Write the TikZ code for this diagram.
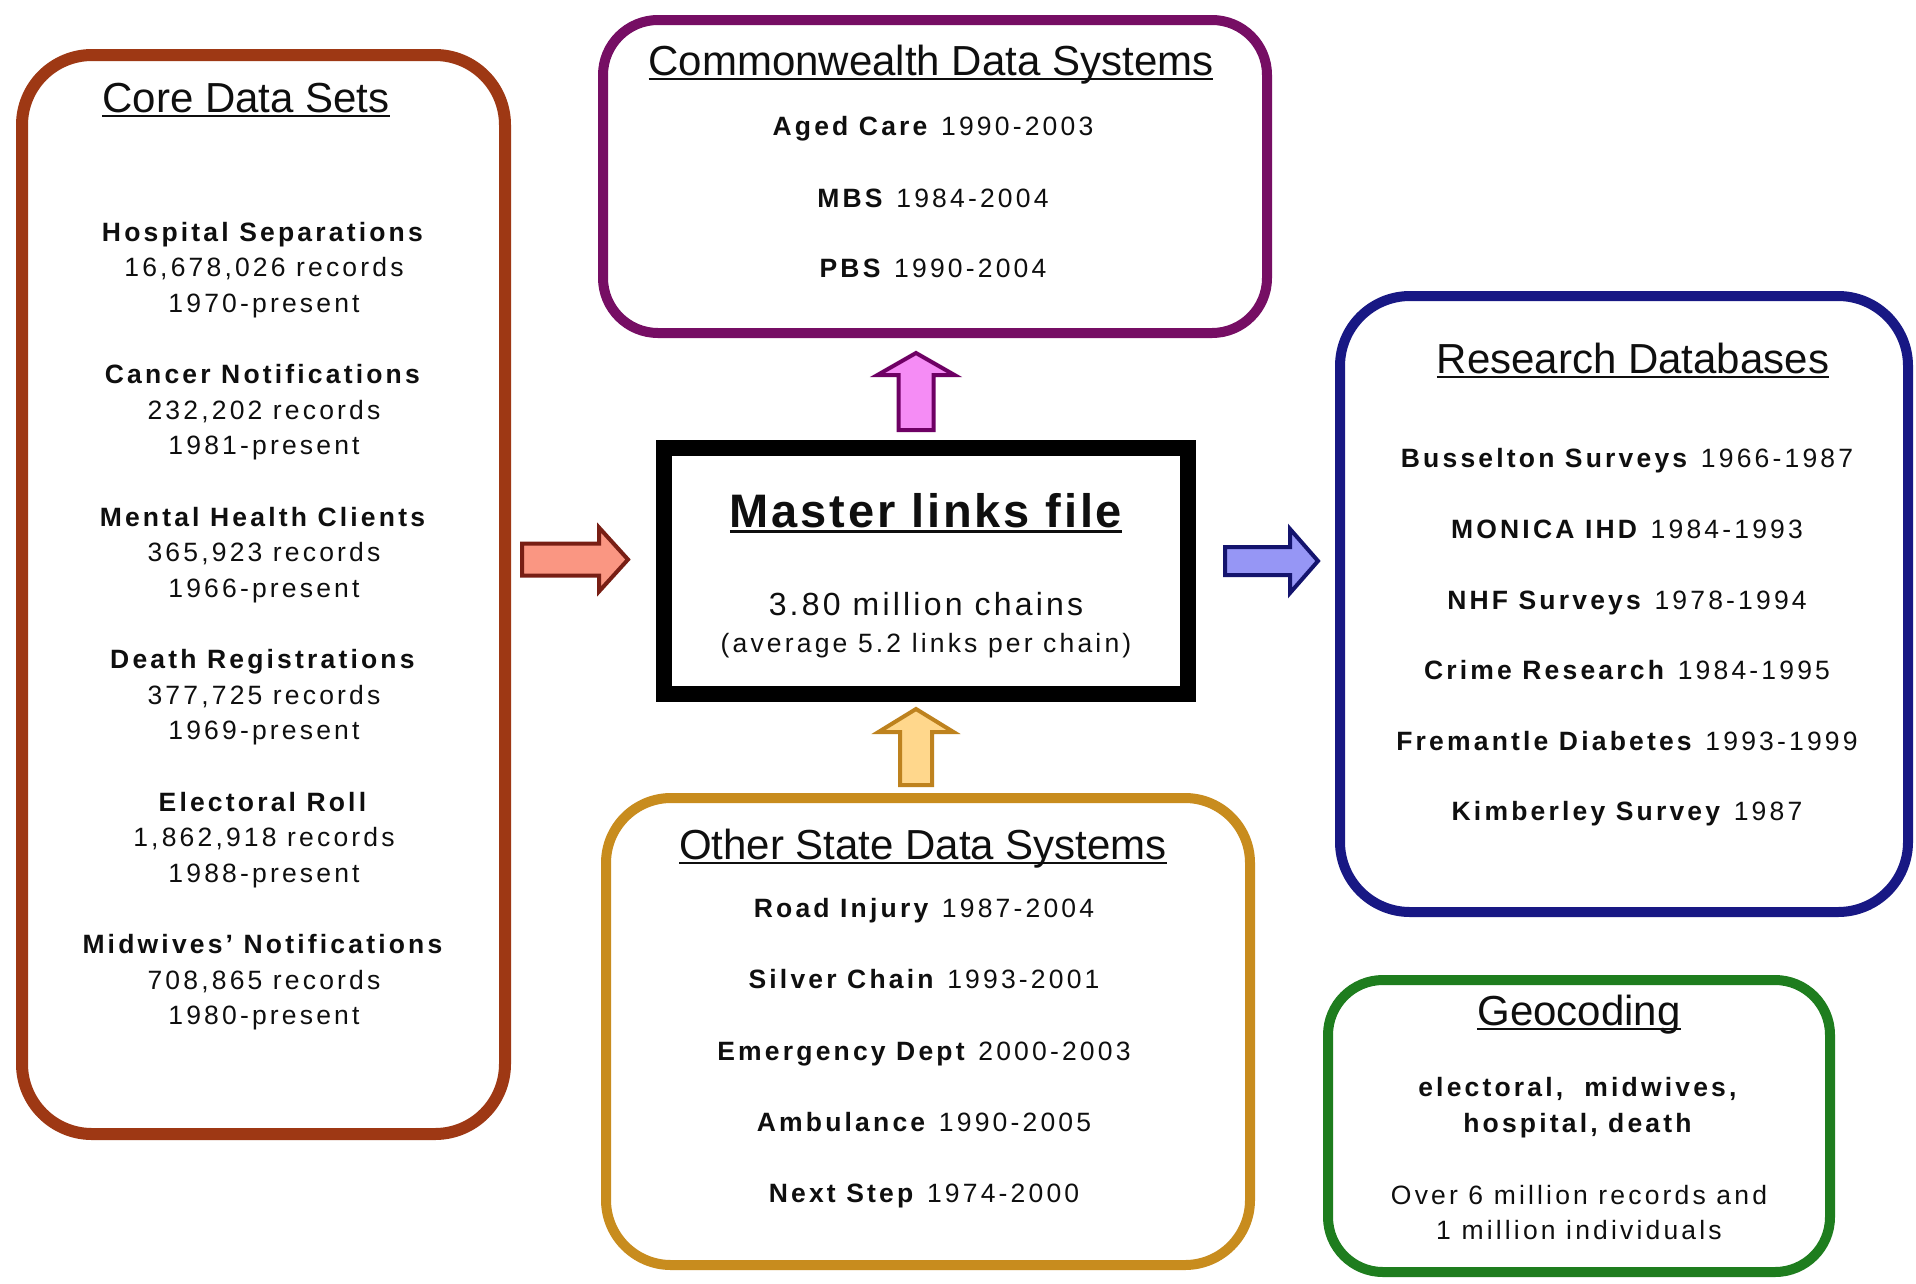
\documentclass[tikz,border=0pt]{standalone}
\usepackage{fontspec}
\setmainfont{Liberation Sans}
\newfontfamily\lsBody[LetterSpace=12]{Liberation Sans}
\newfontfamily\lsTitle[LetterSpace=6]{Liberation Sans}
\newfontfamily\lsChain[LetterSpace=10]{Liberation Sans}
\usetikzlibrary{calc}
\definecolor{txt}{RGB}{15,15,15}
\definecolor{coreC}{RGB}{158,56,20}
\definecolor{comC}{RGB}{118,14,100}
\definecolor{resC}{RGB}{24,24,132}
\definecolor{geoC}{RGB}{30,125,30}
\definecolor{othC}{RGB}{200,140,30}
\definecolor{arrLf}{RGB}{250,150,130}
\definecolor{arrLo}{RGB}{120,30,20}
\definecolor{arrRf}{RGB}{150,150,245}
\definecolor{arrRo}{RGB}{20,20,110}
\definecolor{arrTf}{RGB}{245,140,245}
\definecolor{arrTo}{RGB}{110,0,100}
\definecolor{arrBf}{RGB}{255,215,140}
\definecolor{arrBo}{RGB}{190,130,30}
\newcommand\ulhdr[1]{\setbox0=\hbox{#1}\rlap{\rule[-0.12em]{\wd0}{0.06em}}\box0}
\tikzset{
  panel/.style={draw, inner sep=0pt, outer sep=0pt},
  hdr/.style={font=\fontsize{42}{48}\selectfont, text=txt, inner sep=0pt, anchor=base},
  itm/.style={font=\lsBody\fontsize{26.5}{35.5}\selectfont, text=txt, inner sep=0pt, anchor=base},
  grp/.style={font=\lsBody\fontsize{26.5}{35.5}\selectfont, text=txt, inner sep=0pt, align=center},
  blk/.style={line width=4pt, line join=miter},
}
\begin{document}
\begin{tikzpicture}[x=1pt,y=-1pt]
\useasboundingbox (0,0) rectangle (1916,1283);
\fill[white] (0,0) rectangle (1916,1283);

% panels
\node[panel, draw=coreC, line width=12pt, rounded corners=70pt, minimum width=483pt, minimum height=1079pt] (core) at (263.5,594.5) {};
\node[panel, draw=comC, line width=10pt, rounded corners=55pt, minimum width=664pt, minimum height=313pt] (com) at (935,176.5) {};
\node[panel, draw=black, line width=16pt, minimum width=524pt, minimum height=246pt] (master) at (926,571) {};
\node[panel, draw=resC, line width=10pt, rounded corners=70pt, minimum width=568pt, minimum height=616pt] (res) at (1624,604) {};
\node[panel, draw=geoC, line width=10pt, rounded corners=55pt, minimum width=502pt, minimum height=292pt] (geo) at (1579,1126) {};
\node[panel, draw=othC, line width=10pt, rounded corners=65pt, minimum width=644pt, minimum height=467pt] (oth) at (928,1031.5) {};

% block arrows
\coordinate (aL) at (522,559.5);
\draw[blk, draw=arrLo, fill=arrLf] ($(aL)+(0,-16)$) -- ++(77,0) -- ++(0,-16) -- ++(29,32) -- ++(-29,32) -- ++(0,-16) -- ++(-77,0) -- cycle;
\coordinate (aR) at (1225,561);
\draw[blk, draw=arrRo, fill=arrRf] ($(aR)+(0,-14)$) -- ++(65,0) -- ++(0,-18) -- ++(28,32) -- ++(-28,32) -- ++(0,-18) -- ++(-65,0) -- cycle;
\coordinate (aT) at (916,430);
\draw[blk, draw=arrTo, fill=arrTf] ($(aT)+(-17.5,0)$) -- ++(0,-55) -- ++(-21,0) -- ++(38.5,-22) -- ++(38.5,22) -- ++(-21,0) -- ++(0,55) -- cycle;
\coordinate (aB) at (916,785);
\draw[blk, draw=arrBo, fill=arrBf] ($(aB)+(-16,0)$) -- ++(0,-53) -- ++(-21.5,0) -- ++(37.5,-23) -- ++(37.5,23) -- ++(-21.5,0) -- ++(0,53) -- cycle;

% core data sets
\node[hdr] (coreH) at (246,112) {\ulhdr{Core Data Sets}};
\node[grp] (c1) at (264,269.7) {\textbf{Hospital Separations}\\16,678,026 records\\1970-present};
\node[grp] (c2) at (264,412.2) {\textbf{Cancer Notifications}\\232,202 records\\1981-present};
\node[grp] (c3) at (264,554.7) {\textbf{Mental Health Clients}\\365,923 records\\1966-present};
\node[grp] (c4) at (264,697.2) {\textbf{Death Registrations}\\377,725 records\\1969-present};
\node[grp] (c5) at (264,839.7) {\textbf{Electoral Roll}\\1,862,918 records\\1988-present};
\node[grp] (c6) at (264,982.2) {\textbf{Midwives’ Notifications}\\708,865 records\\1980-present};

% commonwealth
\node[hdr] (comH) at (931,75) {\ulhdr{Commonwealth Data Systems}};
\node[itm] (m1) at (933,135) {\textbf{Aged Care} 1990-2003};
\node[itm] (m2) at (933,207) {\textbf{MBS} 1984-2004};
\node[itm] (m3) at (933,277) {\textbf{PBS} 1990-2004};

% master
\node[anchor=base, inner sep=0pt, text=txt, font=\lsTitle\bfseries\fontsize{47}{52}\selectfont] (mT) at (926,527) {\ulhdr{Master links file}};
\node[anchor=base, inner sep=0pt, text=txt, font=\lsChain\fontsize{32}{38}\selectfont] (mC) at (926,615) {3.80 million chains};
\node[itm] (mA) at (926,652) {(average 5.2 links per chain)};

% research
\node[hdr] (resH) at (1633,373) {\ulhdr{Research Databases}};
\node[itm] (r1) at (1627,467) {\textbf{Busselton Surveys} 1966-1987};
\node[itm] (r2) at (1627,538) {\textbf{MONICA IHD} 1984-1993};
\node[itm] (r3) at (1627,609) {\textbf{NHF Surveys} 1978-1994};
\node[itm] (r4) at (1627,679) {\textbf{Crime Research} 1984-1995};
\node[itm] (r5) at (1627,750) {\textbf{Fremantle Diabetes} 1993-1999};
\node[itm] (r6) at (1627,820) {\textbf{Kimberley Survey} 1987};

% other state
\node[hdr] (othH) at (923,859) {\ulhdr{Other State Data Systems}};
\node[itm] (o1) at (924,917) {\textbf{Road Injury} 1987-2004};
\node[itm] (o2) at (924,988) {\textbf{Silver Chain} 1993-2001};
\node[itm] (o3) at (924,1060) {\textbf{Emergency Dept} 2000-2003};
\node[itm] (o4) at (924,1131) {\textbf{Ambulance} 1990-2005};
\node[itm] (o5) at (924,1202) {\textbf{Next Step} 1974-2000};

% geocoding
\node[hdr] (geoH) at (1579,1025) {\ulhdr{Geocoding}};
\node[grp, font=\lsBody\fontsize{26.5}{36}\selectfont] (g1) at (1579,1108) {\textbf{electoral,~ midwives,}\\\textbf{hospital, death}};
\node[grp, font=\lsBody\fontsize{26.5}{35}\selectfont] (g2) at (1579,1213) {Over 6 million records and\\1 million individuals};
\end{tikzpicture}
\end{document}
